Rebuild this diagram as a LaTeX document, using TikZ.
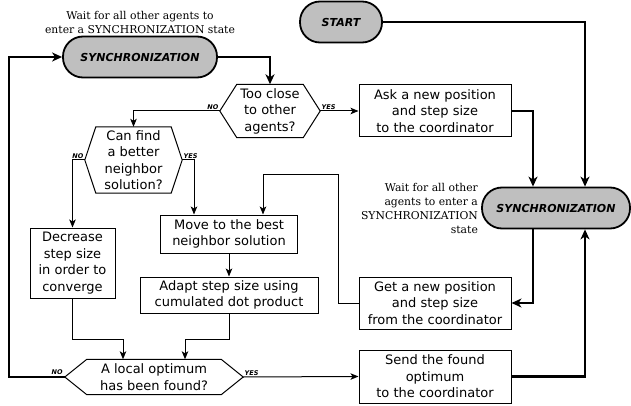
\documentclass[tikz,border=0pt]{standalone}
\usepackage{fontspec}
\setmainfont{DejaVu Serif}
\setsansfont{DejaVu Sans}
\usetikzlibrary{arrows.meta,shapes,positioning}

% outline of a decision node, #2 = how far the top edge starts in
\newcommand{\hexframe}[2]{%
  \draw[line width=1pt] (#1.west) -- ([xshift=#2]#1.north west) -- ([xshift=-#2]#1.north east)
    -- (#1.east) -- ([xshift=-#2]#1.south east) -- ([xshift=#2]#1.south west) -- cycle;}

\begin{document}
\begin{tikzpicture}[x=1pt, y=-1pt,
  pill/.style={draw, line width=1.8pt, fill=gray!50, rounded corners=20pt, minimum height=41pt, inner sep=0pt,
    font=\sffamily\bfseries\itshape\fontsize{11}{13}\selectfont},
  box/.style={draw, line width=1pt, align=center, inner sep=0pt, font=\sffamily\fontsize{13}{16.5}\selectfont},
  test/.style={align=center, inner sep=0pt, font=\sffamily\fontsize{13}{16.5}\selectfont},
  note/.style={inner sep=0pt, font=\rmfamily\fontsize{10.8}{14}\selectfont},
  answer/.style={inner sep=1pt, font=\sffamily\bfseries\itshape\fontsize{6.5}{7}\selectfont},
  conn/.style={-{Stealth[length=8pt, width=6.5pt, inset=2pt]}, line width=1pt},
  flow/.style={-{Stealth[length=10pt, width=9pt, inset=3pt]}, line width=2.2pt}]

\useasboundingbox (0,0) rectangle (631,406);

\node[pill, minimum width=154pt] (sync1) at (140,57) {SYNCHRONIZATION};
\node[pill, minimum width=82pt] (start) at (341,22) {START};
\node[pill, minimum width=148pt] (sync2) at (556,208) {SYNCHRONIZATION};
\node[note, align=center, above=2pt of sync1] (wait1) {Wait for all other agents to\\enter a SYNCHRONIZATION state};
\node[note, align=right, left=3pt of sync2] (wait2) {Wait for all other\\agents to enter a\\SYNCHRONIZATION\\state};

\node[test, minimum width=100pt, minimum height=53pt] (close) at (270,111) {Too close\\to other\\agents?};
\hexframe{close}{17pt}
\node[test, minimum width=97pt, minimum height=66pt] (better) at (133.5,160) {Can find\\a better\\neighbor\\solution?};
\hexframe{better}{11pt}
\node[test, minimum width=178pt, minimum height=35pt] (optimum) at (154,377) {A local optimum\\has been found?};
\hexframe{optimum}{22pt}

\node[box, minimum width=152pt, minimum height=52pt] (ask) at (435,111) {Ask a new position\\and step size\\to the coordinator};
\node[box, minimum width=152pt, minimum height=52pt] (get) at (435,303) {Get a new position\\and step size\\from the coordinator};
\node[box, minimum width=152pt, minimum height=53pt] (send) at (435,376.5) {Send the found\\optimum\\to the coordinator};
\node[box, minimum width=137pt, minimum height=38pt] (move) at (229,234) {Move to the best\\neighbor solution};
\node[box, minimum width=178pt, minimum height=36pt] (adapt) at (229,295) {Adapt step size using\\cumulated dot product};
\node[box, minimum width=85pt, minimum height=70pt] (decrease) at (72.5,263) {Decrease\\step size\\in order to\\converge};

\coordinate (turn) at (338,175);
\coordinate (mergeL) at (123,339);
\coordinate (mergeR) at (185,339);
\coordinate (back) at (9,57);

% synchronisation loop
\draw[flow] (sync1.east) -| (close.north);
\draw[flow] (start.east) -| ([xshift=29pt]sync2.north);
\draw[flow] (ask.east) -| ([xshift=-23pt]sync2.north);
\draw[flow] ([xshift=-23pt]sync2.south) |- (get.east);
\draw[flow] (send.east) -| ([xshift=29pt]sync2.south);
\draw[flow] (optimum.west) node[answer, anchor=south east] {NO} -| (back) -- (sync1.west);

% local search
\draw[conn] (close.west) node[answer, anchor=south east] {NO} -| (better.north);
\draw[conn] (close.east) node[answer, anchor=south west] {YES} -- (ask.west);
\draw[conn] (better.west) node[answer, anchor=south east] {NO} -| (decrease.north);
\draw[conn] (better.east) node[answer, anchor=south west] {YES} -| ([xshift=-35pt]move.north);
\draw[conn] (get.west) -| (turn) -| ([xshift=34pt]move.north);
\draw[conn] (move.south) -- (adapt.north);
\draw[conn] (decrease.south) |- (mergeL) -- (mergeL |- optimum.north);
\draw[conn] (adapt.south) |- (mergeR) -- (mergeR |- optimum.north);
\draw[conn] (optimum.east) node[answer, anchor=south west] {YES} -- (send.west);
\end{tikzpicture}
\end{document}
